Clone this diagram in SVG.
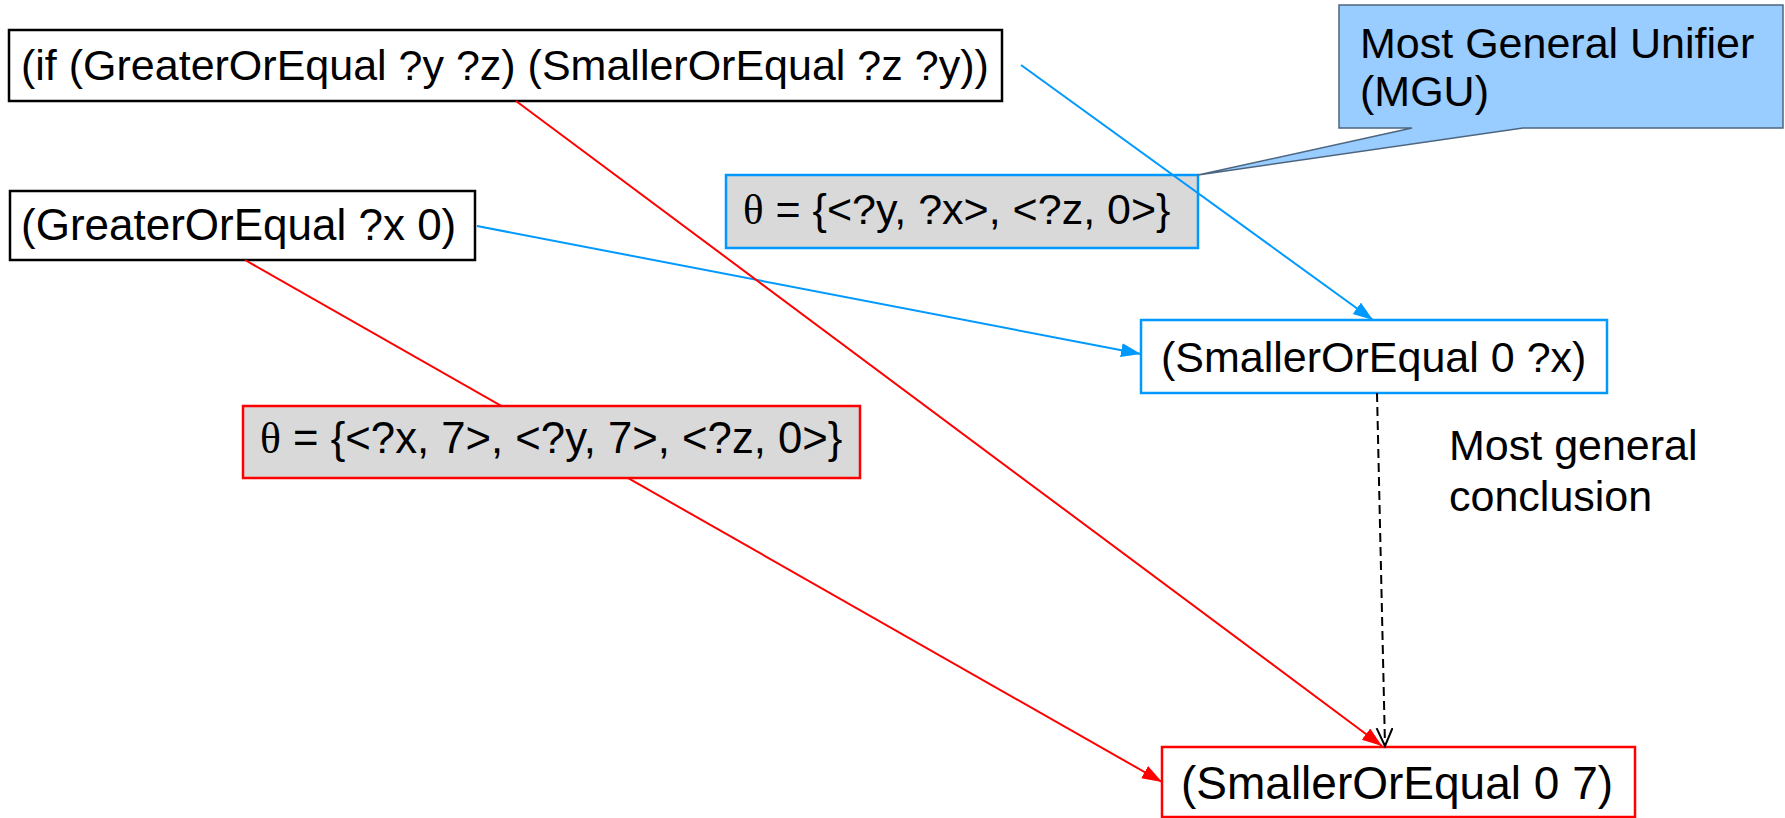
<svg xmlns="http://www.w3.org/2000/svg" width="1785" height="818" viewBox="0 0 1785 818">
<style>
text{font-family:"Liberation Sans",Arial,sans-serif;font-size:43px;fill:#000}
.th{font-family:"Liberation Serif","Times New Roman",serif}
.bk{fill:#fff;stroke:#000;stroke-width:2.5}
.bl{fill:#fff;stroke:#0099ff;stroke-width:2.5}
.rd{fill:#fff;stroke:#ff0000;stroke-width:2.5}
.gb{fill:#d9d9d9;stroke:#0099ff;stroke-width:2.5}
.gr{fill:#d9d9d9;stroke:#ff0000;stroke-width:2.5}
.cb{fill:#99ccff;stroke:#4d6680;stroke-width:1.5}
.lb{stroke:#0099ff;stroke-width:2;fill:none}
.lr{stroke:#ff0000;stroke-width:2;fill:none}
.ld{stroke:#000;stroke-width:2;fill:none;stroke-dasharray:9 5}
</style>
<defs>
<marker id="ab" markerUnits="userSpaceOnUse" markerWidth="22" markerHeight="16" refX="20" refY="7" orient="auto"><path d="M0,0 L20,7 L0,14 z" fill="#0099ff"/></marker>
<marker id="ar" markerUnits="userSpaceOnUse" markerWidth="22" markerHeight="16" refX="20" refY="7" orient="auto"><path d="M0,0 L20,7 L0,14 z" fill="#ff0000"/></marker>
<marker id="ao" markerUnits="userSpaceOnUse" markerWidth="22" markerHeight="18" refX="18" refY="8" orient="auto"><path d="M0,0 L18,8 L0,16" fill="none" stroke="#000" stroke-width="2"/></marker>
</defs>
<g id="n-if">
<rect class="bk" x="9" y="30" width="993" height="71"/>
<text x="21" y="80">(if (GreaterOrEqual ?y ?z) (SmallerOrEqual ?z ?y))</text>
</g>
<g id="n-ge">
<rect class="bk" x="10" y="191" width="465" height="69"/>
<text x="21" y="240" style="font-size:44px">(GreaterOrEqual ?x 0)</text>
</g>
<g id="n-theta-mgu">
<rect class="gb" x="726" y="175" width="472" height="73"/>
<text x="743" y="224"><tspan class="th">θ</tspan> = {&lt;?y, ?x&gt;, &lt;?z, 0&gt;}</text>
</g>
<g id="n-mgu-callout">
<path class="cb" d="M1339,5 H1783 V128 H1523 L1198,175 L1412,128 H1339 Z"/>
<text x="1360" y="58">Most General Unifier</text>
<text x="1360" y="106">(MGU)</text>
</g>
<g id="n-se-x">
<rect class="bl" x="1141" y="320" width="466" height="73"/>
<text x="1161" y="372">(SmallerOrEqual 0 ?x)</text>
</g>
<g id="n-label">
<text x="1449" y="460">Most general</text>
<text x="1449" y="511">conclusion</text>
</g>
<g id="n-se-7">
<rect class="rd" x="1162" y="747" width="473" height="70"/>
<text x="1181" y="799" style="font-size:46px">(SmallerOrEqual 0 7)</text>
</g>
<g id="connectors">
<line class="lb" x1="1021" y1="65" x2="1373" y2="320" marker-end="url(#ab)"/>
<line class="lb" x1="477" y1="226" x2="1141" y2="354" marker-end="url(#ab)"/>
<line class="lr" x1="516" y1="101" x2="1382" y2="746" marker-end="url(#ar)"/>
<line class="lr" x1="245" y1="260" x2="1162" y2="782" marker-end="url(#ar)"/>
<line class="ld" x1="1377" y1="393" x2="1385" y2="746" marker-end="url(#ao)"/>
</g>
<g id="n-theta-ground">
<rect class="gr" x="243" y="406" width="617" height="72"/>
<text x="260" y="453" style="font-size:43.7px"><tspan class="th">θ</tspan> = {&lt;?x, 7&gt;, &lt;?y, 7&gt;, &lt;?z, 0&gt;}</text>
</g>
</svg>
